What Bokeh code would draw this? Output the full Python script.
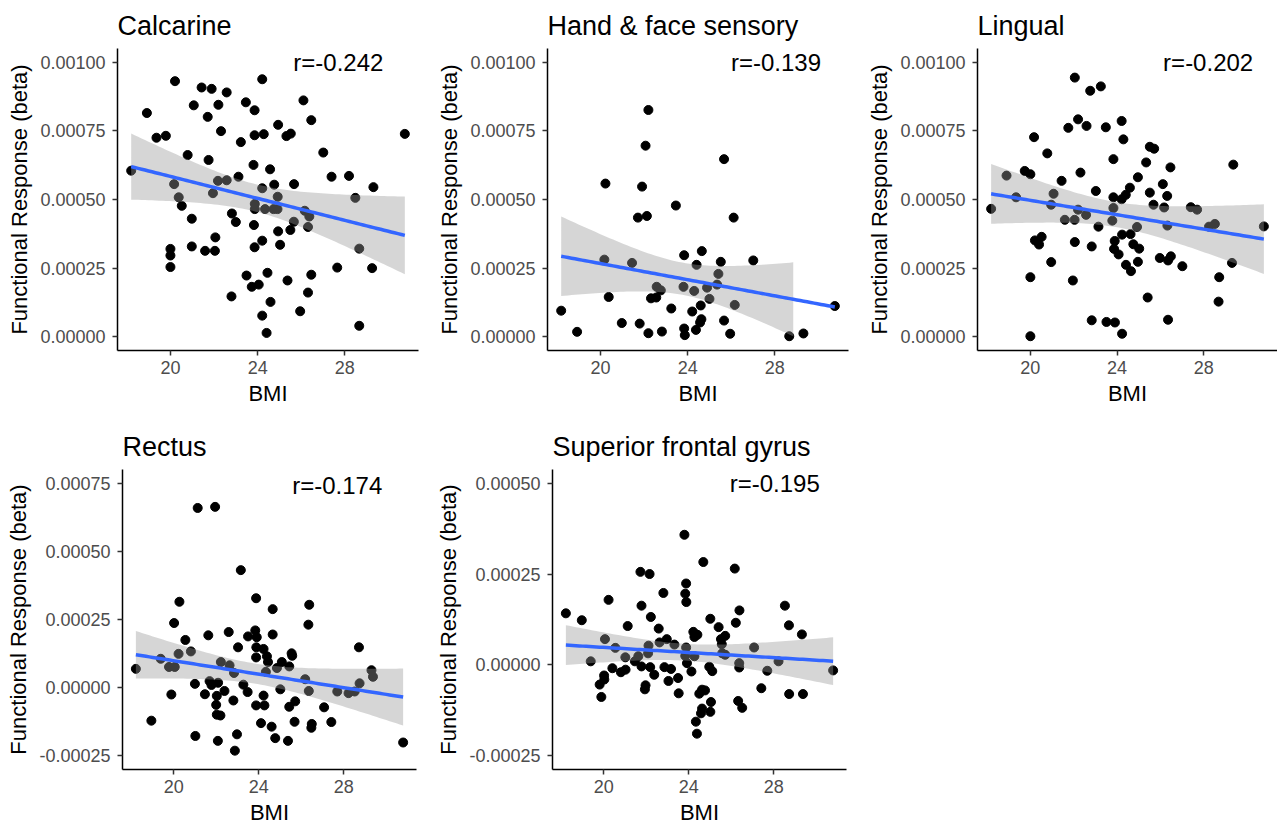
import numpy as np
from bokeh.plotting import figure
from bokeh.layouts import column, row
from bokeh.models import FixedTicker, Label, Range1d
from bokeh.embed import file_html
from bokeh.resources import INLINE

# ---------------- data (beta values in units of 1e-4) ----------------
titles = ["Calcarine", "Hand & face sensory", "Lingual", "Rectus", "Superior frontal gyrus"]
r_texts = ["r=-0.242", "r=-0.139", "r=-0.202", "r=-0.174", "r=-0.195"]

calcarine_bmi = [18.2, 18.92, 19.36, 19.79, 20.21, 20.0, 20.0, 20.0, 20.17, 20.38, 20.52, 20.79, 20.98, 20.98, 21.07,
                 21.43, 21.89, 21.71, 21.75, 21.95, 21.59, 22.04, 22.06, 22.2, 22.18, 22.32, 22.58, 22.58, 22.82, 23.0,
                 22.8, 23.12, 23.23, 23.46, 23.49, 23.73, 23.81, 23.83, 23.86, 23.86, 23.87, 23.87, 23.86, 24.05, 24.21,
                 24.28, 24.21, 24.21, 24.21, 24.41, 24.45, 24.34, 24.57, 24.59, 24.76, 24.73, 24.94, 24.92, 24.91, 24.94,
                 25.03, 25.32, 25.52, 25.37, 25.5, 25.67, 25.66, 25.95, 26.1, 26.16, 26.31, 26.31, 26.37, 26.46, 26.46,
                 27.01, 27.39, 27.65, 28.19, 28.48, 28.66, 28.66, 29.31, 29.25, 30.75]
calcarine_beta_e4 = [6.05, 8.15, 7.25, 7.32, 9.31, 3.20, 2.96, 2.54, 5.56, 5.08, 4.77, 6.62, 4.30, 3.29, 8.43,
                     9.08, 9.03, 8.01, 6.44, 5.23, 3.13, 3.13, 3.62, 8.45, 5.68, 7.49, 8.90, 5.70, 4.49, 4.18,
                     1.47, 5.83, 7.09, 8.54, 2.23, 1.82, 6.26, 4.07, 8.25, 7.34, 4.84, 4.65, 3.26, 1.90, 9.38,
                     7.38, 5.41, 3.50, 0.77, 0.14, 2.33, 4.65, 6.10, 1.27, 5.54, 4.65, 7.72, 5.10, 4.65, 3.84,
                     3.35, 7.31, 7.40, 2.05, 3.89, 5.56, 4.19, 0.93, 8.61, 4.59, 4.00, 1.61, 4.38, 7.89, 2.26,
                     6.71, 5.83, 2.52, 5.86, 5.06, 3.21, 0.40, 5.45, 2.50, 7.39]

hand_bmi = [18.2, 18.93, 20.23, 20.18, 20.38, 20.98, 21.45, 21.8, 21.72, 21.91, 22.07, 22.13, 22.2, 22.2, 22.32,
            22.56, 22.58, 22.77, 22.82, 23.25, 23.46, 23.84, 23.81, 23.84, 23.87, 24.21, 24.3, 24.41, 24.38, 24.57,
            24.63, 24.6, 24.65, 24.89, 25.0, 25.35, 25.41, 25.52, 25.67, 25.67, 25.95, 26.11, 26.16, 27.01, 28.66,
            29.31, 30.75]
hand_beta_e4 = [0.95, 0.18, 5.58, 2.81, 1.45, 0.50, 2.69, 0.48, 4.34, 5.47, 6.96, 4.40, 8.26, 0.13, 1.40,
                1.43, 1.82, 1.69, 0.19, 1.03, 4.78, 2.97, 1.82, 0.30, 0.06, 0.92, 1.67, 2.62, 0.25, 0.52,
                0.64, 1.14, 3.12, 1.79, 1.38, 1.90, 2.29, 2.73, 6.47, 0.59, 0.11, 4.34, 1.16, 2.78, 0.02,
                0.12, 1.12]

lingual_bmi = [18.19, 18.9, 19.34, 19.74, 20.0, 20.0, 20.0, 20.17, 20.21, 20.4, 20.52, 20.78, 20.96, 21.07, 20.96,
               21.44, 21.59, 21.75, 21.96, 22.04, 22.05, 22.05, 22.2, 22.2, 22.31, 22.59, 22.57, 22.76, 22.83, 22.83,
               23.02, 23.14, 23.25, 23.48, 23.51, 23.83, 23.83, 23.83, 23.78, 23.89, 23.86, 23.9, 24.07, 24.21, 24.29,
               24.21, 24.23, 24.23, 24.4, 24.41, 24.59, 24.62, 24.64, 24.75, 24.96, 24.92, 25.02, 24.96, 25.34, 25.41,
               25.51, 25.51, 25.71, 25.68, 25.97, 26.11, 26.17, 26.31, 26.32, 26.35, 26.46, 26.48, 26.35, 27.01, 27.4,
               27.69, 28.24, 28.51, 28.71, 28.68, 29.36, 29.3, 30.77]
lingual_beta_e4 = [4.66, 5.87, 5.08, 6.04, 5.92, 2.17, 0.02, 7.27, 3.51, 3.36, 3.64, 6.68, 4.81, 5.21, 2.72,
                   5.68, 4.26, 7.61, 2.05, 4.26, 3.45, 9.44, 7.92, 4.63, 5.98, 7.68, 4.44, 8.96, 3.29, 0.60,
                   5.31, 4.01, 9.12, 7.63, 0.54, 6.47, 5.08, 4.69, 4.23, 3.49, 3.20, 0.52, 3.00, 7.86, 7.19,
                   5.01, 3.72, 0.11, 5.17, 2.62, 5.43, 3.74, 2.39, 3.37, 5.81, 4.00, 3.21, 2.73, 6.35, 1.43,
                   5.25, 6.92, 6.85, 4.81, 2.87, 5.56, 4.71, 5.13, 4.05, 2.78, 6.17, 2.93, 0.62, 2.57, 4.72,
                   4.63, 4.01, 4.11, 2.17, 1.28, 6.27, 2.69, 4.02]

rectus_bmi = [18.22, 18.95, 19.39, 19.78, 19.89, 20.02, 20.05, 20.23, 20.27, 20.55, 20.81, 21.0, 21.02, 21.13, 21.47,
              21.63, 21.69, 21.78, 21.95, 22.0, 22.03, 22.09, 22.03, 22.2, 22.08, 22.22, 22.39, 22.59, 22.63, 22.84,
              22.81, 22.98, 22.88, 23.03, 23.16, 23.28, 23.48, 23.5, 23.84, 23.88, 23.91, 23.89, 23.88, 23.88, 24.11,
              24.23, 24.27, 24.23, 24.39, 24.34, 24.44, 24.61, 24.66, 24.66, 24.78, 24.86, 25.02, 25.09, 25.38, 25.44,
              25.44, 25.55, 25.58, 25.72, 25.69, 26.19, 26.34, 26.38, 26.36, 26.5, 26.48, 27.08, 27.42, 27.7, 28.23,
              28.52, 28.72, 28.75, 29.31, 29.38, 30.8]
rectus_beta_e4 = [0.69, -1.21, 1.06, 0.76, -0.25, 2.37, 0.76, 1.24, 3.15, 1.75, 1.33, 0.14, -1.77, 6.59, -0.24,
                  1.92, 0.24, 0.10, 6.63, -0.63, -0.30, 0.18, -0.99, -1.02, -1.95, 0.94, -0.12, 2.04, 0.82, 0.54,
                  -0.47, -1.71, -2.31, 1.48, 4.31, 0.11, -0.16, 1.88, 2.10, 3.28, 1.85, 1.48, 1.11, -0.65, -1.30,
                  1.42, -0.65, -0.29, 1.15, 0.58, 0.94, -1.43, 2.88, 1.95, -1.85, 0.72, -0.06, 0.94, -1.95, 0.78,
                  -0.70, 1.26, 1.17, -0.50, -1.25, 0.31, 2.31, 3.04, -0.12, -1.33, -1.47, -0.72, -1.26, -0.14, -0.20,
                  -0.14, 1.48, 0.16, 0.64, 0.40, -2.01]

superior_bmi = [18.22, 18.97, 19.39, 19.81, 19.89, 20.02, 20.06, 20.03, 20.23, 20.41, 20.55, 20.81, 21.02, 21.03, 21.13,
                21.47, 21.63, 21.73, 21.78, 21.78, 21.94, 21.97, 22.09, 22.11, 22.16, 22.22, 22.19, 22.38, 22.59, 22.63,
                22.81, 22.86, 22.97, 23.05, 23.17, 23.33, 23.5, 23.53, 23.8, 23.84, 23.88, 23.89, 23.88, 23.84, 23.92,
                24.13, 24.27, 24.22, 24.27, 24.41, 24.34, 24.39, 24.5, 24.58, 24.63, 24.63, 24.69, 24.77, 24.97, 25.02,
                25.05, 25.02, 25.11, 25.41, 25.52, 25.56, 25.58, 25.72, 25.72, 26.17, 26.22, 26.39, 26.38, 26.38, 26.33,
                26.52, 27.08, 27.42, 27.7, 28.23, 28.53, 28.72, 28.73, 29.33, 29.38, 30.8]
superior_beta_e4 = [1.42, 1.23, 0.10, -0.54, -0.88, -0.29, 0.71, -0.40, 1.79, -0.09, 0.47, -0.20, 0.21, -0.13, 1.07,
                    0.10, 0.24, 2.56, 1.63, -0.04, -0.67, -0.56, 0.32, 0.53, 2.50, 1.32, -0.06, -0.27, 1.00, 0.62,
                    1.98, -0.06, 0.71, -0.44, -0.11, 0.56, -0.36, -0.78, 3.58, 1.96, 2.24, 1.73, 0.48, 0.25, 0.05,
                    -0.18, 0.24, 0.91, 0.77, 0.83, -1.56, -1.89, -0.79, -1.33, -0.68, -1.20, 2.83, -0.70, -0.05, -1.29,
                    -1.02, 1.27, -0.17, 1.04, 0.71, 0.57, 0.32, 0.80, 0.28, 2.65, 1.16, 1.50, 0.05, -0.07, -0.99,
                    -1.18, 0.48, -0.64, -0.16, 0.10, 1.63, 1.09, -0.80, 0.84, -0.80, -0.15]

x_ticks = [20, 24, 28]
y_ticks_top = [0.0, 0.00025, 0.0005, 0.00075, 0.001]
y_labels_top = ["0.00000", "0.00025", "0.00050", "0.00075", "0.00100"]
y_ticks_rectus = [-0.00025, 0.0, 0.00025, 0.0005, 0.00075]
y_labels_rectus = ["-0.00025", "0.00000", "0.00025", "0.00050", "0.00075"]
y_ticks_sfg = [-0.00025, 0.0, 0.00025, 0.0005]
y_labels_sfg = ["-0.00025", "0.00000", "0.00025", "0.00050"]
y_limits = [(0.0, 0.001), (0.0, 0.001), (0.0, 0.001), (-0.00025, 0.00075), (-0.00025, 0.0005)]

# ---------------- styling ----------------
FONT = "Liberation Sans"
E4 = 1e-4


def t975(df):
    z = 1.959963985
    g1 = (z ** 3 + z) / 4
    g2 = (5 * z ** 5 + 16 * z ** 3 + 3 * z) / 96
    g3 = (3 * z ** 7 + 19 * z ** 5 + 17 * z ** 3 - 15 * z) / 384
    return z + g1 / df + g2 / df ** 2 + g3 / df ** 3


def make_panel(title, bmi, beta_e4, yt, yl, ylim, rtext, rx, ry, w, h, bl, br, bt, bb):
    assert len(bmi) == len(beta_e4), (title, len(bmi), len(beta_e4))
    x = np.array(bmi, dtype=float)
    y = np.array(beta_e4, dtype=float) * E4
    xr = x.max() - x.min()
    lo, hi = ylim
    yr = hi - lo
    p = figure(width=w, height=h, min_border_left=bl, min_border_right=br,
               min_border_top=bt, min_border_bottom=bb,
               x_range=Range1d(x.min() - 0.05 * xr, x.max() + 0.05 * xr),
               y_range=Range1d(lo - 0.05 * yr, hi + 0.05 * yr),
               output_backend="svg", toolbar_location=None, title=title)
    p.outline_line_color = None
    p.xgrid.visible = False
    p.ygrid.visible = False
    p.background_fill_color = "white"
    p.border_fill_color = "white"

    p.title.text_font = FONT
    p.title.text_font_size = "27px"
    p.title.text_font_style = "normal"
    p.title.text_color = "black"
    p.title.align = "left"
    p.title.vertical_align = "top"
    p.title.standoff = 12

    # points
    p.scatter(x, y, size=9, color="black")

    # linear fit with 95% CI (as geom_smooth(method = "lm"))
    n = len(x)
    b1, b0 = np.polyfit(x, y, 1)
    xs = np.linspace(x.min(), x.max(), 80)
    yh = b0 + b1 * xs
    res = y - (b0 + b1 * x)
    s = np.sqrt(np.sum(res ** 2) / (n - 2))
    sxx = np.sum((x - x.mean()) ** 2)
    se = s * np.sqrt(1.0 / n + (xs - x.mean()) ** 2 / sxx)
    t = t975(n - 2)
    lower = yh - t * se
    upper = yh + t * se
    valid = (lower >= lo) & (upper <= hi)
    i = 0
    while i < len(xs):
        if valid[i]:
            j = i
            while j < len(xs) and valid[j]:
                j += 1
            p.varea(x=xs[i:j], y1=lower[i:j], y2=upper[i:j], fill_color="#999999", fill_alpha=0.4)
            i = j
        else:
            i += 1
    p.line(xs, yh, line_color="#3366FF", line_width=3.5)

    p.add_layout(Label(x=rx, y=ry, text=rtext, text_align="center", text_baseline="middle",
                       text_font=FONT, text_font_size="24px", text_color="black"))

    for ax in (p.xaxis[0], p.yaxis[0]):
        ax.axis_line_color = "black"
        ax.axis_line_width = 1.5
        ax.major_tick_line_color = "#333333"
        ax.major_tick_line_width = 1.5
        ax.major_tick_out = 5
        ax.major_tick_in = 0
        ax.minor_tick_line_color = None
        ax.major_label_text_font = FONT
        ax.major_label_text_font_size = "18px"
        ax.major_label_text_color = "#4D4D4D"
        ax.axis_label_text_font = FONT
        ax.axis_label_text_font_size = "22px"
        ax.axis_label_text_font_style = "normal"
        ax.axis_label_text_color = "black"
    p.xaxis.axis_label = "BMI"
    p.xaxis.ticker = FixedTicker(ticks=x_ticks)
    p.xaxis.major_label_standoff = 5
    p.xaxis.axis_label_standoff = 4
    p.yaxis.axis_label = "Functional Response (beta)"
    p.yaxis.ticker = FixedTicker(ticks=yt)
    p.yaxis.major_label_overrides = {v: lab for v, lab in zip(yt, yl)}
    p.yaxis.major_label_standoff = 7
    p.yaxis.axis_label_standoff = 5
    return p


p1 = make_panel(titles[0], calcarine_bmi, calcarine_beta_e4, y_ticks_top, y_labels_top, y_limits[0],
                r_texts[0], 27.7, 0.001, 430, 410, 117, 12, 48, 60)
p2 = make_panel(titles[1], hand_bmi, hand_beta_e4, y_ticks_top, y_labels_top, y_limits[1],
                r_texts[1], 28.05, 0.001, 430, 410, 117, 12, 48, 60)
p3 = make_panel(titles[2], lingual_bmi, lingual_beta_e4, y_ticks_top, y_labels_top, y_limits[2],
                r_texts[2], 28.2, 0.001, 417, 410, 117, 0, 48, 60)
p4 = make_panel(titles[3], rectus_bmi, rectus_beta_e4, y_ticks_rectus, y_labels_rectus, y_limits[3],
                r_texts[3], 27.7, 0.00074, 430, 417, 122, 14, 59, 56)
p5 = make_panel(titles[4], superior_bmi, superior_beta_e4, y_ticks_sfg, y_labels_sfg, y_limits[4],
                r_texts[4], 28.05, 0.0005, 430, 417, 122, 14, 59, 56)

layout = column(row(p1, p2, p3), row(p4, p5))
open("out.html", "w").write(file_html(layout, INLINE))
